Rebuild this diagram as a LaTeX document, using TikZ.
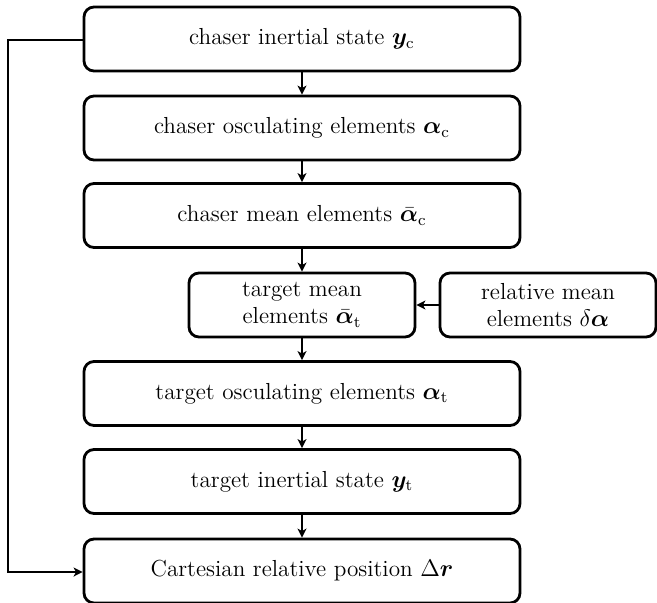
\documentclass[tikz,border=0pt]{standalone}
\usepackage{bm}
\usetikzlibrary{arrows.meta}
\tikzset{
  box/.style={draw, line width=1.4pt, rounded corners=5pt, align=center, inner sep=0pt,
    font=\fontsize{11.6}{13.5}\selectfont},
  wide/.style={box, minimum width=218pt, minimum height=32pt},
  conn/.style={line width=0.9pt, -{Stealth[length=4.5pt,width=4.5pt,inset=1.2pt]}},
}
\begin{document}
\begin{tikzpicture}[x=0.5pt,y=-0.5pt]
\useasboundingbox (0,0) rectangle (657,602);
\begin{scope}
\clip (0,0) rectangle (657,602);
\node[wide] (n1) at (302,39) {chaser inertial state $\bm{y}_{\mathrm{c}}$};
\node[wide] (n2) at (302,128) {chaser osculating elements $\bm{\alpha}_{\mathrm{c}}$};
\node[wide] (n3) at (302,215.5) {chaser mean elements $\bar{\bm{\alpha}}_{\mathrm{c}}$};
\node[box, minimum width=113pt, minimum height=32pt] (n4) at (302,305) {target mean\\elements $\bar{\bm{\alpha}}_{\mathrm{t}}$};
\node[box, minimum width=108pt, minimum height=32pt] (n5) at (548,305) {relative mean\\elements $\delta\bm{\alpha}$};
\node[wide] (n6) at (302,393.5) {target osculating elements $\bm{\alpha}_{\mathrm{t}}$};
\node[wide] (n7) at (302,481.5) {target inertial state $\bm{y}_{\mathrm{t}}$};
\node[wide] (n8) at (302,571) {Cartesian relative position $\Delta\bm{r}$};
\end{scope}
\draw[conn] (n1) -- (n2);
\draw[conn] (n2) -- (n3);
\draw[conn] (n3) -- (n4);
\draw[conn] (n5) -- (n4);
\draw[conn] (n4) -- (n6);
\draw[conn] (n6) -- (n7);
\draw[conn] (n7) -- (n8);
\coordinate (c1) at (8,40);
\coordinate (c2) at (8,572);
\draw[conn] (n1.west |- c1) -- (c1) -- (c2) -- (n8.west |- c2);
\end{tikzpicture}
\end{document}
